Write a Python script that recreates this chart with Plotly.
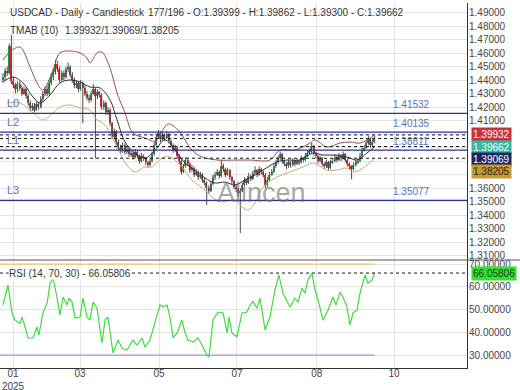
import plotly.graph_objects as go
from plotly.subplots import make_subplots

# ---------------- data ----------------
first_open = 1.4400
closes = [
    1.4420, 1.4470, 1.4450, 1.4650, 1.4390, 1.4360, 1.4330, 1.4370, 1.4340, 1.4300,
    1.4330, 1.4280, 1.4230, 1.4190, 1.4210, 1.4180, 1.4220, 1.4200, 1.4260, 1.4300,
    1.4330, 1.4300, 1.4380, 1.4420, 1.4460, 1.4520, 1.4480, 1.4400, 1.4450, 1.4420,
    1.4480, 1.4500, 1.4440, 1.4400, 1.4360, 1.4380, 1.4330, 1.4380, 1.4340, 1.4300,
    1.4270, 1.4250, 1.4300, 1.4330, 1.4280, 1.4310, 1.4290, 1.4200, 1.4230, 1.4160,
    1.4180, 1.4080, 1.3980, 1.4020, 1.3940, 1.3900, 1.3880, 1.3920, 1.3870, 1.3890,
    1.3850, 1.3860, 1.3830, 1.3870, 1.3840, 1.3800, 1.3840, 1.3820, 1.3790, 1.3770,
    1.3800, 1.3850, 1.3920, 1.3980, 1.4010, 1.3960, 1.3990, 1.3970, 1.4000, 1.3950,
    1.3920, 1.3880, 1.3900, 1.3840, 1.3800, 1.3720, 1.3760, 1.3810, 1.3780, 1.3730,
    1.3750, 1.3700, 1.3720, 1.3680, 1.3700, 1.3660, 1.3640, 1.3600, 1.3580, 1.3630,
    1.3680, 1.3700, 1.3720, 1.3690, 1.3760, 1.3740, 1.3700, 1.3730, 1.3680, 1.3650,
    1.3610, 1.3590, 1.3560, 1.3580, 1.3620, 1.3660, 1.3640, 1.3690, 1.3670, 1.3710,
    1.3730, 1.3700, 1.3740, 1.3720, 1.3700, 1.3620, 1.3660, 1.3700, 1.3720, 1.3760,
    1.3790, 1.3820, 1.3850, 1.3800, 1.3780, 1.3760, 1.3790, 1.3770, 1.3800, 1.3780,
    1.3800, 1.3790, 1.3820, 1.3810, 1.3840, 1.3860, 1.3870, 1.3910, 1.3860, 1.3840,
    1.3800, 1.3820, 1.3780, 1.3760, 1.3790, 1.3750, 1.3790, 1.3800, 1.3830, 1.3810,
    1.3840, 1.3820, 1.3850, 1.3810, 1.3780, 1.3760, 1.3740, 1.3770, 1.3790, 1.3800,
    1.3840, 1.3880, 1.3900, 1.3930, 1.3960, 1.3920, 1.39399, 1.39662,
]
highs = [
    1.4450, 1.4490, 1.4500, 1.4670, 1.4733, 1.4420, 1.4380, 1.4390, 1.4390, 1.4360,
    1.4350, 1.4340, 1.4300, 1.4250, 1.4230, 1.4230, 1.4240, 1.4240, 1.4280, 1.4320,
    1.4350, 1.4360, 1.4400, 1.4450, 1.4480, 1.4550, 1.4540, 1.4500, 1.4470, 1.4470,
    1.4500, 1.4530, 1.4510, 1.4460, 1.4420, 1.4400, 1.4390, 1.4400, 1.4390, 1.4360,
    1.4320, 1.4290, 1.4320, 1.4370, 1.4340, 1.4330, 1.4320, 1.4300, 1.4250, 1.4240,
    1.4200, 1.4190, 1.4090, 1.4040, 1.4030, 1.3960, 1.3920, 1.3940, 1.3930, 1.3910,
    1.3900, 1.3880, 1.3870, 1.3890, 1.3880, 1.3850, 1.3860, 1.3850, 1.3830, 1.3800,
    1.3820, 1.3870, 1.3940, 1.4000, 1.4030, 1.4020, 1.4010, 1.4000, 1.4020, 1.4010,
    1.3960, 1.3930, 1.3920, 1.3910, 1.3850, 1.3810, 1.3780, 1.3830, 1.3820, 1.3790,
    1.3770, 1.3760, 1.3740, 1.3730, 1.3720, 1.3710, 1.3680, 1.3650, 1.3620, 1.3650,
    1.3700, 1.3720, 1.3740, 1.3730, 1.3810, 1.3780, 1.3750, 1.3750, 1.3740, 1.3690,
    1.3660, 1.3630, 1.3600, 1.3600, 1.3640, 1.3680, 1.3670, 1.3710, 1.3700, 1.3730,
    1.3760, 1.3740, 1.3760, 1.3750, 1.3730, 1.3710, 1.3680, 1.3720, 1.3740, 1.3780,
    1.3810, 1.3840, 1.3870, 1.3860, 1.3810, 1.3790, 1.3810, 1.3800, 1.3820, 1.3810,
    1.3820, 1.3810, 1.3840, 1.3830, 1.3860, 1.3880, 1.3890, 1.3935, 1.3920, 1.3870,
    1.3850, 1.3840, 1.3830, 1.3790, 1.3810, 1.3800, 1.3810, 1.3820, 1.3850, 1.3840,
    1.3860, 1.3850, 1.3870, 1.3860, 1.3820, 1.3790, 1.3770, 1.3790, 1.3810, 1.3820,
    1.3860, 1.3900, 1.3920, 1.3950, 1.3985, 1.3970, 1.3960, 1.39862,
]
lows = [
    1.4380, 1.4400, 1.4430, 1.4440, 1.4370, 1.4340, 1.4300, 1.4310, 1.4320, 1.4280,
    1.4290, 1.4260, 1.4210, 1.4170, 1.4170, 1.4160, 1.4170, 1.4180, 1.4190, 1.4240,
    1.4280, 1.4280, 1.4290, 1.4360, 1.4400, 1.4440, 1.4460, 1.4380, 1.4390, 1.4400,
    1.4410, 1.4460, 1.4420, 1.4380, 1.4340, 1.4340, 1.4310, 1.4320, 1.4080, 1.4280,
    1.4250, 1.4230, 1.4240, 1.4290, 1.3820, 1.4260, 1.4270, 1.4180, 1.4180, 1.4140,
    1.4140, 1.4060, 1.3960, 1.3960, 1.3920, 1.3880, 1.3860, 1.3860, 1.3850, 1.3850,
    1.3830, 1.3830, 1.3810, 1.3820, 1.3820, 1.3780, 1.3790, 1.3800, 1.3770, 1.3750,
    1.3760, 1.3790, 1.3840, 1.3910, 1.3970, 1.3940, 1.3950, 1.3950, 1.3960, 1.3930,
    1.3900, 1.3860, 1.3870, 1.3820, 1.3780, 1.3700, 1.3710, 1.3750, 1.3760, 1.3710,
    1.3720, 1.3680, 1.3690, 1.3660, 1.3670, 1.3640, 1.3620, 1.3474, 1.3560, 1.3570,
    1.3620, 1.3660, 1.3690, 1.3670, 1.3680, 1.3720, 1.3680, 1.3690, 1.3660, 1.3630,
    1.3590, 1.3570, 1.3540, 1.3267, 1.3570, 1.3610, 1.3620, 1.3630, 1.3650, 1.3660,
    1.3700, 1.3680, 1.3690, 1.3700, 1.3680, 1.3600, 1.3610, 1.3650, 1.3690, 1.3710,
    1.3750, 1.3780, 1.3810, 1.3780, 1.3760, 1.3740, 1.3750, 1.3750, 1.3760, 1.3760,
    1.3770, 1.3770, 1.3780, 1.3790, 1.3800, 1.3830, 1.3850, 1.3860, 1.3840, 1.3820,
    1.3780, 1.3790, 1.3760, 1.3740, 1.3750, 1.3730, 1.3740, 1.3780, 1.3790, 1.3790,
    1.3800, 1.3800, 1.3810, 1.3790, 1.3760, 1.3740, 1.3665, 1.3730, 1.3760, 1.3780,
    1.3790, 1.3830, 1.3870, 1.3890, 1.3920, 1.3900, 1.3910, 1.39300,
]
opens = [first_open] + closes[:-1]
bars = list(range(len(closes)))

# TMA band readings (bar position, price)
upper_x = [0, 3.3, 8.1, 12.9, 16.2, 19, 23.8, 27.1, 31.9, 36.7, 40, 41.4, 44.8, 47.1, 49.5,
           52.4, 54.3, 58.1, 61.9, 67.6, 72.4, 78.6, 83.3, 90, 94.8, 102.4, 110.5, 117.6,
           127.1, 131.9, 139, 146.2, 148.6, 154.3, 160.5, 165.2, 170, 177]
upper_y = [1.4548, 1.4607, 1.4644, 1.4496, 1.4378, 1.4326, 1.4474, 1.4600, 1.4615, 1.4600,
           1.4563, 1.4526, 1.4600, 1.4607, 1.4548, 1.4415, 1.4304, 1.4156, 1.4007, 1.3970,
           1.3948, 1.4074, 1.4030, 1.3881, 1.3830, 1.3807, 1.3807, 1.3807, 1.3807, 1.3881,
           1.3881, 1.3933, 1.3956, 1.3904, 1.3933, 1.3941, 1.3933, 1.39932]
mid_x = [0, 4.8, 9.5, 14.3, 17.6, 22.4, 27.1, 31.9, 36.7, 41.4, 46.2, 51, 54.3, 59, 67.6,
         72.4, 77.1, 81.9, 86.7, 91.4, 96.2, 101, 105.7, 110.5, 115.2, 120, 123.8, 130.5,
         135.2, 141.4, 147.6, 152.4, 159, 163.8, 168.6, 173.3, 177]
mid_y = [1.4385, 1.4422, 1.4378, 1.4274, 1.4230, 1.4289, 1.4378, 1.4400, 1.4385, 1.4348,
         1.4341, 1.4252, 1.4104, 1.3919, 1.3822, 1.3881, 1.3956, 1.3881, 1.3785, 1.3733,
         1.3674, 1.3637, 1.3644, 1.3622, 1.3659, 1.3696, 1.3733, 1.3793, 1.3807, 1.3807,
         1.3859, 1.3844, 1.3844, 1.3830, 1.3807, 1.3859, 1.39069]
lower_x = [1.9, 8.1, 14.3, 19, 23.8, 27.1, 31.9, 36.7, 41.4, 44.8, 47.6, 51, 54.3, 59, 62.9,
           67.6, 71, 75.7, 79.5, 85.2, 90, 96.2, 99.5, 104.3, 110.5, 113.8, 116.7, 120,
           123.8, 130.5, 136.7, 142.9, 147.6, 154.3, 159, 163.8, 166.7, 170, 177]
lower_y = [1.4230, 1.4230, 1.4156, 1.4104, 1.4156, 1.4200, 1.4215, 1.4193, 1.4178, 1.4104,
           1.4081, 1.4007, 1.3904, 1.3770, 1.3719, 1.3756, 1.3756, 1.3822, 1.3830, 1.3756,
           1.3659, 1.3585, 1.3533, 1.3496, 1.3511, 1.3459, 1.3437, 1.3489, 1.3607, 1.3681,
           1.3719, 1.3756, 1.3785, 1.3733, 1.3733, 1.3748, 1.3719, 1.3733, 1.38205]

# RSI readings (bar position, value)
rsi_x = [0, 2.4, 4.3, 5.7, 8.1, 9, 10, 11.9, 14.3, 16.2, 17.1, 19, 21, 22.4, 23.8, 25.7,
         27.1, 28.6, 30.5, 31.4, 32.9, 34.3, 36.7, 38.1, 40, 41.4, 42.9, 44.8, 47.1, 48.6,
         50, 52.4, 54.8, 56.7, 59, 61.9, 63.8, 66.2, 67.6, 70, 72.4, 73.8, 74.8, 76.2,
         78.1, 79.5, 81, 82.9, 85.2, 86.7, 88.1, 90.5, 92.9, 94.8, 97.1, 98.1, 100, 102.4,
         104.8, 106.7, 107.6, 109, 111.4, 113.8, 116.2, 117.6, 119, 121, 122.4, 124.8,
         127.1, 129.5, 131.4, 133.3, 136.7, 139, 140.5, 142.4, 143.8, 145.2, 147.1, 148.6,
         150, 152.4, 154.8, 157.1, 158.6, 160.5, 161.9, 163.8, 165.2, 166.7, 168.6, 170,
         172.4, 173.8, 175.7, 177]
rsi_y = [52, 60.8, 48.5, 45.4, 44, 46.7, 44, 37.5, 37.5, 42.3, 38.8, 48.5, 52.9, 61.6, 63.8,
         55.5, 47.6, 55.5, 52, 55, 53.3, 46.3, 46.7, 55, 46.7, 45.4, 53.3, 50.6, 35.3, 45.4,
         46.7, 30.9, 36.6, 33.1, 32.2, 36.6, 34.4, 37.5, 33.5, 36.6, 44.5, 48.9, 52, 51.1,
         52, 46.7, 37.5, 39.7, 45.4, 39.7, 36.6, 35.7, 37.5, 34.4, 30, 29.1, 45.4, 48.9,
         48.5, 39.7, 46.7, 39.7, 38, 48.5, 48.9, 52, 53.5, 50.6, 55, 41, 46.7, 58.6, 65.2,
         57.2, 51.1, 55, 53.3, 59.4, 57.2, 63, 66, 58.6, 54.2, 45.4, 49.8, 55.5, 52, 57.7,
         55.5, 51.1, 43.2, 48.5, 49.8, 57.2, 65.2, 61.6, 63, 66.05806]

levels = {"L0": 1.41532, "L2": 1.40135, "L1": 1.38811, "L3": 1.35077}
tmab = [1.39932, 1.39069, 1.38205]
last_close = 1.39662
rsi_last = 66.05806
rsi_hi, rsi_lo = 70, 30

tick_pos = [4.76, 36.7, 74.3, 111.4, 149.4, 186.2]
tick_txt = ["01<br>2025", "03", "05", "07", "08", "10"]
price_ticks = [1.31, 1.32, 1.33, 1.34, 1.35, 1.36, 1.37, 1.38, 1.39, 1.40,
               1.41, 1.42, 1.43, 1.44, 1.45, 1.46, 1.47, 1.48, 1.49]
price_hidden = [1.37, 1.38, 1.39, 1.40]
rsi_ticks = [30, 40, 50, 60, 70]

# ---------------- styling ----------------
FONT = "Liberation Sans, Arial, sans-serif"
GREEN = "#2f9e52"
RED = "#d8333a"
WICK = "#4a4a4a"
GRID = "#e4e4e4"
NAVY = "#2b3190"
LBL = "#5a72c4"
x_range = [-1.43, 220.95]
y_range = [1.30667, 1.49704]
r_range = [24.3, 71.8]

W, H = 520, 390
ML, MR, MT, MB = 0, 53, 3, 22
plot_h = H - MT - MB
main_frac = 257 / plot_h

fig = make_subplots(rows=2, cols=1, shared_xaxes=True, vertical_spacing=0,
                    row_heights=[main_frac, 1 - main_frac])

# wicks
wx, wy = [], []
for i in bars:
    wx += [i, i, None]
    wy += [lows[i], highs[i], None]
fig.add_trace(go.Scatter(x=wx, y=wy, mode="lines", line=dict(color=WICK, width=1),
                         hoverinfo="skip", showlegend=False), row=1, col=1)

# bodies (thin bars from open to close)
body_lo = [min(o, c) for o, c in zip(opens, closes)]
body_h = [abs(c - o) for o, c in zip(opens, closes)]
body_col = [GREEN if c >= o else RED for o, c in zip(opens, closes)]
fig.add_trace(go.Bar(x=bars, y=body_h, base=body_lo, width=0.72,
                     marker=dict(color=body_col, line=dict(width=0)),
                     showlegend=False), row=1, col=1)

# TMA bands
fig.add_trace(go.Scatter(x=upper_x, y=upper_y, mode="lines", line=dict(color="#9a4d4d", width=1, shape="spline"),
                         showlegend=False), row=1, col=1)
fig.add_trace(go.Scatter(x=mid_x, y=mid_y, mode="lines", line=dict(color="#2d2d3a", width=1, shape="spline"),
                         showlegend=False), row=1, col=1)
fig.add_trace(go.Scatter(x=lower_x, y=lower_y, mode="lines", line=dict(color="#c9ab6a", width=1, shape="spline"),
                         showlegend=False), row=1, col=1)

# RSI
fig.add_trace(go.Scatter(x=[x_range[0], bars[-1]], y=[rsi_hi, rsi_hi], mode="lines",
                         line=dict(color="#f2c66d", width=1.2), showlegend=False), row=2, col=1)
fig.add_trace(go.Scatter(x=[x_range[0], bars[-1]], y=[rsi_lo, rsi_lo], mode="lines",
                         line=dict(color="#a994dc", width=1.2), showlegend=False), row=2, col=1)
fig.add_trace(go.Scatter(x=rsi_x, y=rsi_y, mode="lines", line=dict(color="#3fdc3f", width=1.2),
                         showlegend=False), row=2, col=1)

shapes = []
for name, v in levels.items():
    shapes.append(dict(type="line", xref="x domain", yref="y", x0=0, x1=1, y0=v, y1=v,
                       line=dict(color=NAVY, width=1.2)))
for v in tmab + [last_close]:
    shapes.append(dict(type="line", xref="x domain", yref="y", x0=0, x1=1, y0=v, y1=v,
                       line=dict(color="#111", width=1, dash="3px,3px")))
shapes.append(dict(type="line", xref="x2 domain", yref="y2", x0=0, x1=1, y0=rsi_last, y1=rsi_last,
                   line=dict(color="#111", width=1, dash="3px,3px")))
sep_y = 1 - 257 / plot_h
shapes.append(dict(type="line", xref="paper", yref="paper", x0=0, x1=W / (W - ML - MR), y0=sep_y, y1=sep_y,
                   line=dict(color="#555", width=1)))

ann = []
def txt(x, y, s, size=10, color="#333", xanchor="left", **kw):
    ann.append(dict(xref="paper", yref="paper", x=x, y=y, text=s, showarrow=False,
                    xanchor=xanchor, yanchor="middle", font=dict(family=FONT, size=size, color=color), **kw))

pw = W - ML - MR
def px_x(p):
    return (p - ML) / pw
def px_y(p):
    return 1 - (p - MT) / plot_h

txt(px_x(8), px_y(12.5), "USDCAD - Daily - Candlestick")
txt(px_x(146), px_y(12.5), "177/196 - O:1.39399 - H:1.39862 - L:1.39300 - C:1.39662")
txt(px_x(8), px_y(30), "TMAB (10)")
txt(px_x(63), px_y(30), "1.39932/1.39069/1.38205")

for name, v in levels.items():
    ann.append(dict(xref="paper", yref="y", x=px_x(5), y=v, text=name, showarrow=False,
                    xanchor="left", yanchor="bottom", yshift=2,
                    font=dict(family=FONT, size=11, color=LBL)))
    ann.append(dict(xref="paper", yref="y", x=px_x(391), y=v, text=f"{v:.5f}", showarrow=False,
                    xanchor="left", yanchor="bottom", yshift=1,
                    font=dict(family=FONT, size=10, color=LBL)))

px_per_unit = 257 / (y_range[1] - y_range[0])
tag_vals = [tmab[0], last_close, tmab[1], tmab[2]]
tag_bg = ["#c8323b", "#2ebaa3", "#1c2566", "#c99a2e"]
tag_fg = ["#ffffff", "#ffffff", "#ffffff", "#222222"]
prev = None
for v, bg, fg in zip(tag_vals, tag_bg, tag_fg):
    ypix = (y_range[1] - v) * px_per_unit
    if prev is not None and ypix < prev + 12.3:
        ypix = prev + 12.3
    shift = -(ypix - (y_range[1] - v) * px_per_unit)
    prev = ypix
    ann.append(dict(xref="paper", yref="y", x=px_x(471), y=v, text=f"{v:.5f}", showarrow=False,
                    xanchor="left", yanchor="middle", yshift=shift, bgcolor=bg, borderpad=1,
                    font=dict(family=FONT, size=10, color=fg)))

ann.append(dict(xref="paper", yref="y2", x=px_x(471), y=rsi_last, text=f"{rsi_last:.5f}",
                showarrow=False, xanchor="left", yanchor="middle", bgcolor="#35e035", borderpad=1,
                font=dict(family=FONT, size=10, color="#1a3a1a")))
ann.append(dict(xref="paper", yref="y2", x=px_x(8), y=rsi_last, text="RSI (14, 70, 30) - 66.05806",
                showarrow=False, xanchor="left", yanchor="middle", bgcolor="#ffffff", borderpad=0,
                font=dict(family=FONT, size=10, color="#333")))

txt(px_x(261), px_y(193), "Alincen", size=27, color="rgba(110,110,110,0.6)", xanchor="center")

fig.update_layout(
    width=W, height=H, margin=dict(l=ML, r=MR, t=MT, b=MB, autoexpand=False),
    paper_bgcolor="white", plot_bgcolor="white", showlegend=False, bargap=0,
    shapes=shapes, annotations=ann, font=dict(family=FONT, size=10, color="#444"),
)
fig.update_xaxes(range=x_range, showgrid=True, gridcolor=GRID, gridwidth=1, zeroline=False,
                 tickvals=tick_pos, ticktext=tick_txt, rangeslider_visible=False, ticks="",
                 automargin=False)
fig.update_xaxes(showticklabels=False, row=1, col=1)
fig.update_xaxes(showline=True, linecolor="#333", linewidth=1, row=2, col=1, ticklabelstandoff=-4,
                 tickfont=dict(family=FONT, size=10, color="#444"))
fig.update_yaxes(side="right", showgrid=True, gridcolor=GRID, zeroline=False, showline=True,
                 linecolor="#333", linewidth=1, ticks="", automargin=False, ticklabelstandoff=-1,
                 tickfont=dict(family=FONT, size=10, color="#444"))
fig.update_yaxes(range=y_range, tickvals=price_ticks,
                 ticktext=["" if t in price_hidden else f"{t:.5f}" for t in price_ticks], row=1, col=1)
fig.update_yaxes(range=r_range, tickvals=rsi_ticks, ticktext=[f"{t:.5f}" for t in rsi_ticks], row=2, col=1)

fig.write_html("out.html", config={"displayModeBar": False},
               post_script="document.body.style.margin='0px';document.body.style.overflow='hidden';")
